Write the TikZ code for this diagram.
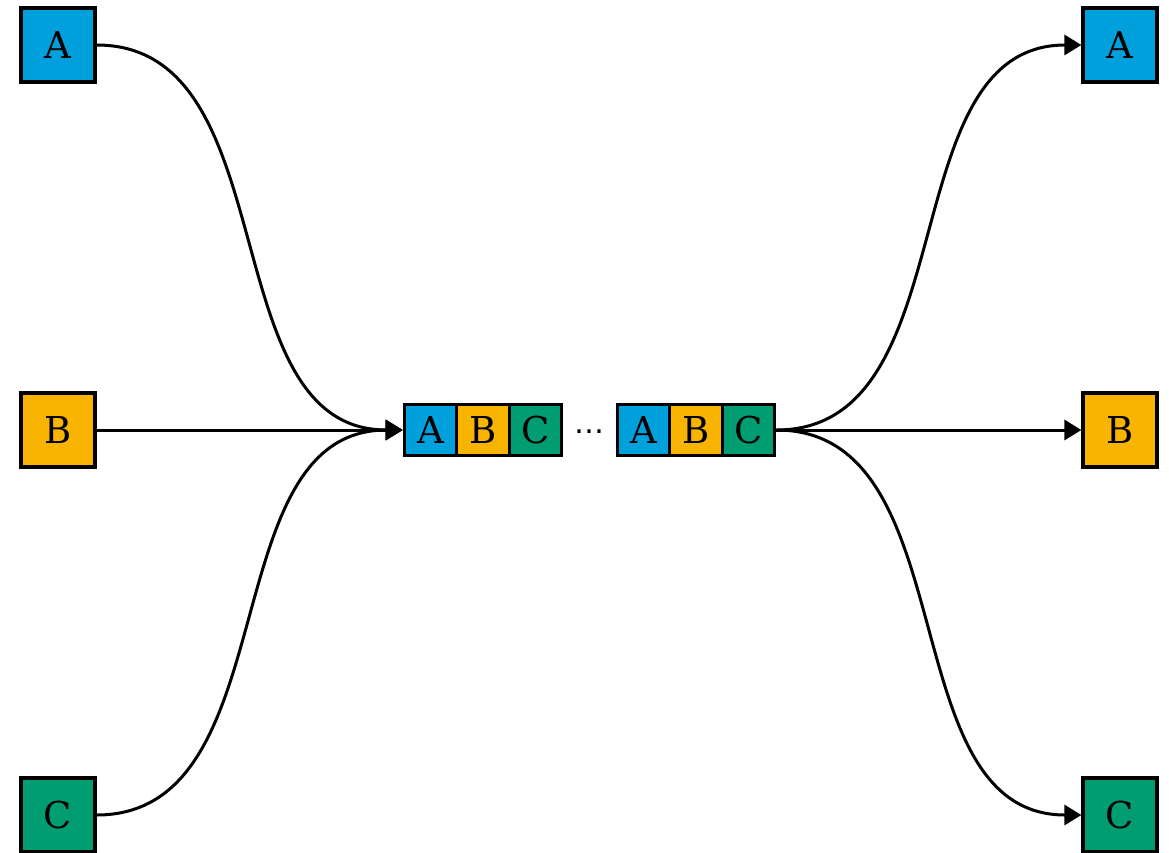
\documentclass[tikz,border=0pt]{standalone}
\usepackage{fontspec}
\setmainfont{DejaVu Serif}
\newfontfamily\dotsfont{DejaVu Sans}
\usetikzlibrary{arrows.meta}
\definecolor{cA}{RGB}{0,160,220}
\definecolor{cB}{RGB}{248,180,0}
\definecolor{cC}{RGB}{0,156,114}
\begin{document}
\begin{tikzpicture}[x=1pt,y=-1pt,
  outer/.style={draw=black,line width=3.2pt,minimum width=74pt,minimum height=74pt,inner sep=0pt,font=\fontsize{37}{44}\selectfont},
  inner/.style={draw=black,line width=3.2pt,minimum width=52.5pt,minimum height=51pt,inner sep=0pt,font=\fontsize{37}{44}\selectfont},
  conn/.style={line width=3pt,-{Triangle[length=17pt,width=20pt]}}]
\useasboundingbox (0,0) rectangle (1169,852);
% left sources
\node[outer,fill=cA] (lA) at (58,45) {A};
\node[outer,fill=cB] (lB) at (58,430) {B};
\node[outer,fill=cC] (lC) at (58,815) {C};
% right targets
\node[outer,fill=cA] (rA) at (1120,45) {A};
\node[outer,fill=cB] (rB) at (1120,430) {B};
\node[outer,fill=cC] (rC) at (1120,815) {C};
% middle sequence
\node[inner,fill=cA] (m1) at (430.5,430) {A};
\node[inner,fill=cB] (m2) at (483,430) {B};
\node[inner,fill=cC] (m3) at (535.5,430) {C};
\node[inner sep=0pt,anchor=base] (dots) at (589.5,433) {\dotsfont\fontsize{30}{36}\selectfont …};
\node[inner,fill=cA] (m4) at (643.5,430) {A};
\node[inner,fill=cB] (m5) at (696,430) {B};
\node[inner,fill=cC] (m6) at (748.5,430) {C};
% connectors
\draw[conn] (lA.east) to[out=0,in=180] (m1.west);
\draw[conn] (lB.east) -- (m1.west);
\draw[conn] (lC.east) to[out=0,in=180] (m1.west);
\draw[conn] (m6.east) to[out=0,in=180] (rA.west);
\draw[conn] (m6.east) -- (rB.west);
\draw[conn] (m6.east) to[out=0,in=180] (rC.west);
\end{tikzpicture}
\end{document}
